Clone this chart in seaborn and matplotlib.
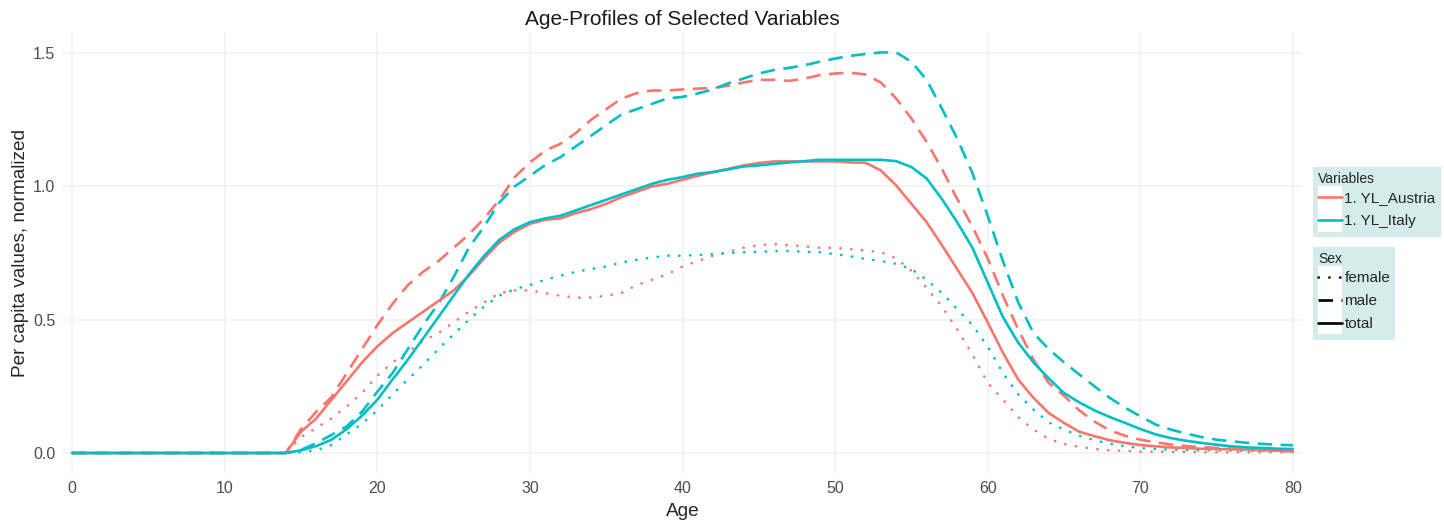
import matplotlib.pyplot as plt
import pandas as pd
import seaborn as sns
from matplotlib.legend_handler import HandlerLine2D
from matplotlib.lines import Line2D
from matplotlib.patches import Rectangle

sns.set_style("whitegrid")
plt.rcParams["font.family"] = ["Liberation Sans", "DejaVu Sans"]

# ages 0..80, one value per year
AGES = list(range(81))

AUT_MALE = [0, 0, 0, 0, 0, 0, 0, 0, 0, 0, 0, 0, 0, 0,
            0.0, 0.09, 0.155, 0.21, 0.30, 0.39,
            0.48, 0.56, 0.63, 0.68, 0.72, 0.77, 0.82, 0.88, 0.95, 1.035,
            1.09, 1.135, 1.16, 1.20, 1.25, 1.29, 1.33, 1.35, 1.36, 1.36,
            1.364, 1.367, 1.37, 1.378, 1.39, 1.40, 1.40, 1.396, 1.405, 1.418,
            1.424, 1.427, 1.42, 1.39, 1.33, 1.255, 1.167, 1.066, 0.953, 0.85,
            0.73, 0.59, 0.464, 0.35, 0.263, 0.215, 0.16, 0.118, 0.085, 0.065,
            0.05, 0.04, 0.032, 0.026, 0.022, 0.019, 0.016, 0.014, 0.011, 0.009,
            0.006]
ITA_MALE = [0, 0, 0, 0, 0, 0, 0, 0, 0, 0, 0, 0, 0, 0,
            0.0, 0.012, 0.037, 0.068, 0.10, 0.155,
            0.23, 0.30, 0.39, 0.48, 0.56, 0.66, 0.77, 0.85, 0.94, 1.00,
            1.04, 1.08, 1.11, 1.15, 1.19, 1.23, 1.27, 1.29, 1.31, 1.33,
            1.336, 1.349, 1.364, 1.387, 1.405, 1.424, 1.437, 1.445, 1.455, 1.468,
            1.48, 1.49, 1.497, 1.503, 1.503, 1.468, 1.40, 1.292, 1.18, 1.05,
            0.89, 0.72, 0.565, 0.45, 0.39, 0.34, 0.295, 0.25, 0.207, 0.17,
            0.138, 0.107, 0.088, 0.073, 0.06, 0.05, 0.044, 0.038, 0.034, 0.031,
            0.029]
AUT_TOTAL = [0, 0, 0, 0, 0, 0, 0, 0, 0, 0, 0, 0, 0, 0,
             0.0, 0.08, 0.13, 0.20, 0.27, 0.34,
             0.40, 0.45, 0.49, 0.53, 0.57, 0.61, 0.665, 0.73, 0.79, 0.83,
             0.86, 0.875, 0.88, 0.90, 0.915, 0.935, 0.96, 0.98, 1.00, 1.01,
             1.025, 1.04, 1.054, 1.066, 1.079, 1.088, 1.094, 1.094, 1.094, 1.094,
             1.094, 1.09, 1.089, 1.06, 1.004, 0.935, 0.866, 0.78, 0.69, 0.60,
             0.49, 0.376, 0.276, 0.207, 0.15, 0.113, 0.08, 0.063, 0.048, 0.038,
             0.03, 0.025, 0.021, 0.019, 0.016, 0.015, 0.014, 0.013, 0.01, 0.009,
             0.006]
ITA_TOTAL = [0, 0, 0, 0, 0, 0, 0, 0, 0, 0, 0, 0, 0, 0,
             0.0, 0.01, 0.026, 0.05, 0.09, 0.14,
             0.20, 0.276, 0.35, 0.43, 0.51, 0.59, 0.67, 0.74, 0.80, 0.84,
             0.866, 0.88, 0.89, 0.91, 0.93, 0.95, 0.97, 0.99, 1.01, 1.025,
             1.035, 1.048, 1.054, 1.064, 1.075, 1.079, 1.085, 1.09, 1.095, 1.10,
             1.10, 1.10, 1.10, 1.10, 1.095, 1.073, 1.03, 0.953, 0.866, 0.77,
             0.64, 0.51, 0.414, 0.34, 0.28, 0.225, 0.19, 0.16, 0.135, 0.113,
             0.09, 0.07, 0.056, 0.046, 0.038, 0.031, 0.025, 0.021, 0.019, 0.016,
             0.015]
AUT_FEMALE = [0, 0, 0, 0, 0, 0, 0, 0, 0, 0, 0, 0, 0, 0,
              0.0, 0.06, 0.094, 0.13, 0.175, 0.226,
              0.29, 0.34, 0.38, 0.42, 0.45, 0.49, 0.53, 0.565, 0.60, 0.61,
              0.61, 0.60, 0.59, 0.583, 0.583, 0.59, 0.60, 0.63, 0.65, 0.67,
              0.70, 0.72, 0.74, 0.755, 0.77, 0.78, 0.784, 0.78, 0.775, 0.77,
              0.77, 0.765, 0.76, 0.753, 0.73, 0.684, 0.62, 0.55, 0.464, 0.37,
              0.263, 0.20, 0.135, 0.088, 0.053, 0.034, 0.023, 0.015, 0.01, 0.008,
              0.005, 0.005, 0.004, 0.004, 0.004, 0.003, 0.003, 0.003, 0.003, 0.003,
              0.003]
ITA_FEMALE = [0, 0, 0, 0, 0, 0, 0, 0, 0, 0, 0, 0, 0, 0,
              0.0, 0.003, 0.01, 0.03, 0.07, 0.11,
              0.16, 0.22, 0.276, 0.33, 0.39, 0.445, 0.50, 0.55, 0.59, 0.615,
              0.63, 0.65, 0.665, 0.68, 0.69, 0.70, 0.715, 0.725, 0.734, 0.74,
              0.74, 0.743, 0.746, 0.75, 0.753, 0.755, 0.757, 0.758, 0.755, 0.753,
              0.746, 0.738, 0.728, 0.72, 0.71, 0.69, 0.65, 0.60, 0.54, 0.48,
              0.40, 0.30, 0.22, 0.163, 0.115, 0.088, 0.065, 0.048, 0.035, 0.025,
              0.019, 0.015, 0.0125, 0.011, 0.01, 0.01, 0.009, 0.009, 0.008, 0.008,
              0.008]

VARIABLES = ["1. YL_Austria", "1. YL_Italy"]
SEXES = ["female", "male", "total"]
X_TICKS = [0, 10, 20, 30, 40, 50, 60, 70, 80]
Y_TICKS = [0.0, 0.5, 1.0, 1.5]
Y_TICK_LABELS = ["0.0", "0.5", "1.0", "1.5"]

COLORS = {"1. YL_Austria": "#F8766D", "1. YL_Italy": "#00BFC4"}
LINESTYLES = {"female": (0, (0.1, 4.0)), "male": (0, (5.5, 3.2)), "total": "-"}
CAPSTYLES = {"female": "round", "male": "butt", "total": "butt"}
LW = 1.9


class BoxedLineHandler(HandlerLine2D):
    # ggplot-style legend key: white square behind a centred line sample
    def create_artists(self, legend, orig_handle, xdescent, ydescent,
                       width, height, fontsize, trans):
        artists = super().create_artists(legend, orig_handle, xdescent, ydescent,
                                         width, height, fontsize, trans)
        for a in artists:
            if isinstance(a, Line2D):
                a.set_ydata([height / 2 - ydescent] * len(a.get_xdata()))
        box = Rectangle((-xdescent, -ydescent), width, height, facecolor="white",
                        edgecolor="none", transform=trans)
        return [box] + list(artists)


def build_frame():
    series = {
        ("1. YL_Austria", "female"): AUT_FEMALE,
        ("1. YL_Austria", "male"): AUT_MALE,
        ("1. YL_Austria", "total"): AUT_TOTAL,
        ("1. YL_Italy", "female"): ITA_FEMALE,
        ("1. YL_Italy", "male"): ITA_MALE,
        ("1. YL_Italy", "total"): ITA_TOTAL,
    }
    frames = []
    for (var, sex), vals in series.items():
        frames.append(pd.DataFrame({"Age": AGES, "value": vals,
                                    "Variables": var, "Sex": sex}))
    return pd.concat(frames, ignore_index=True)


def main():
    df = build_frame()

    fig = plt.figure(figsize=(14.44, 5.2), dpi=100)
    ax = fig.add_axes([63 / 1444, 1 - 473 / 520, (1302 - 63) / 1444, (473 - 32.4) / 520])

    for sex in SEXES:
        sns.lineplot(data=df[df["Sex"] == sex], x="Age", y="value",
                     hue="Variables", hue_order=VARIABLES, palette=COLORS,
                     linewidth=LW, linestyle=LINESTYLES[sex],
                     dash_capstyle=CAPSTYLES[sex], legend=False, ax=ax)

    ax.set_xlim(-0.6, 80.6)
    ax.set_ylim(-0.075, 1.578)
    ax.set_xticks(X_TICKS)
    ax.set_yticks(Y_TICKS)
    ax.set_yticklabels(Y_TICK_LABELS)
    ax.grid(color="#F0F0F0", linewidth=1.1)
    for spine in ax.spines.values():
        spine.set_visible(False)
    ax.tick_params(length=3.6, width=1, color="#7F7F7F", labelcolor="#4D4D4D",
                   labelsize=11.5, pad=2)

    ax.set_title("Age-Profiles of Selected Variables", fontsize=15, pad=5, color="#1A1A1A")
    ax.set_xlabel("Age", fontsize=13.7, labelpad=5)
    ax.set_ylabel("Per capita values, normalized", fontsize=13.7, labelpad=3)

    common = dict(loc="upper left", frameon=True, facecolor="#D4ECEA", edgecolor="none",
                  fancybox=False, framealpha=1, fontsize=11, title_fontsize=10,
                  handlelength=1.57, handleheight=1.93, labelspacing=0,
                  handletextpad=0.15, borderpad=0.33, borderaxespad=0,
                  alignment="left", handler_map={Line2D: BoxedLineHandler()})

    var_handles = [Line2D([], [], color=COLORS[v], linewidth=LW) for v in VARIABLES]
    fig.legend(var_handles, VARIABLES, title="Variables",
               bbox_to_anchor=(1313 / 1444, 1 - 166.7 / 520), **common)

    sex_handles = [Line2D([], [], color="black", linewidth=LW, linestyle=LINESTYLES[s],
                          dash_capstyle=CAPSTYLES[s]) for s in SEXES]
    fig.legend(sex_handles, SEXES, title="Sex",
               bbox_to_anchor=(1313 / 1444, 1 - 246.7 / 520), **common)

    fig.savefig("out.png", dpi=100)


if __name__ == "__main__":
    main()
